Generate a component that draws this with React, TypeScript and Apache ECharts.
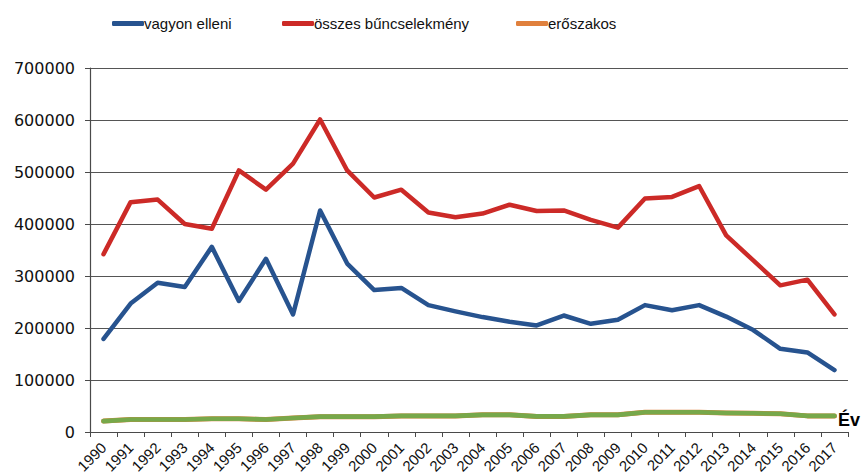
import React, { useEffect, useRef } from "react";
import * as echarts from "echarts";

const years = ["1990","1991","1992","1993","1994","1995","1996","1997","1998","1999","2000","2001","2002","2003","2004","2005","2006","2007","2008","2009","2010","2011","2012","2013","2014","2015","2016","2017"];
const vagyonElleni = [179000,247000,287000,279000,356000,252000,333000,226000,426000,324000,273000,277000,244000,232000,221000,212000,205000,224000,208000,216000,244000,234000,244000,222000,196000,160000,153000,119000];
const osszes = [342000,442000,447000,400000,391000,503000,466000,516000,601000,503000,451000,466000,422000,413000,420000,437000,425000,426000,408000,393000,449000,452000,473000,378000,330000,282000,293000,226000];
const eroszakos = [21000,24000,24000,24000,25500,25500,24000,27000,29500,29500,29500,31000,31000,31000,33000,33000,30000,30000,33000,33000,38000,38000,38000,36500,36000,35000,31000,31000];
const yTicks = [0,100000,200000,300000,400000,500000,600000,700000];

const BLUE = "#27538F";
const RED = "#CC2A27";
const ORANGE = "#E0803C";
const GREEN = "#77A84A";

export default function App() {
  const ref = useRef<HTMLDivElement>(null);
  useEffect(() => {
    const chart = echarts.init(ref.current!, undefined, { renderer: "svg" });
    const legendBase = {
      top: 11,
      icon: "roundRect",
      itemWidth: 32,
      itemHeight: 5,
      itemGap: 0,
      textStyle: { fontFamily: "Liberation Sans", fontSize: 15, color: "#111", padding: [0, 0, 0, -5] },
    };
    chart.setOption({
      animation: false,
      backgroundColor: "#fff",
      legend: [
        { ...legendBase, left: 107, data: [{ name: "vagyon elleni", itemStyle: { color: BLUE } }] },
        { ...legendBase, left: 277, data: [{ name: "összes bűncselekmény", itemStyle: { color: RED } }] },
        { ...legendBase, left: 511, data: [{ name: "erőszakos", itemStyle: { color: ORANGE } }] },
      ],
      grid: { left: 90, right: 15, top: 68, bottom: 42, containLabel: false, outerBoundsMode: "none" },
      xAxis: {
        type: "category",
        data: years,
        boundaryGap: true,
        axisLine: { lineStyle: { color: "#4a4a4a", width: 1.2 } },
        axisTick: { show: true, length: 5, alignWithLabel: false, lineStyle: { color: "#4a4a4a" } },
        axisLabel: { rotate: 45, interval: 0, fontFamily: "Liberation Sans", fontSize: 15, color: "#111", margin: 13 },
      },
      yAxis: {
        type: "value",
        min: 0,
        max: 700000,
        interval: 100000,
        axisLine: { show: true, lineStyle: { color: "#4a4a4a", width: 1.2 } },
        axisTick: { show: true, length: 5, lineStyle: { color: "#4a4a4a" } },
        splitLine: { show: true, lineStyle: { color: "#555", width: 1 } },
        axisLabel: {
          fontFamily: "DejaVu Sans",
          fontSize: 16,
          color: "#111",
          margin: 15,
          formatter: (v: number) => (yTicks.includes(v) ? String(v) : ""),
        },
      },
      graphic: [
        { type: "text", left: 838, top: 411, style: { text: "Év", fontFamily: "Liberation Sans", fontWeight: "bold", fontSize: 18, fill: "#000" } },
      ],
      series: [
        {
          name: "vagyon elleni", type: "line", data: vagyonElleni, symbol: "none",
          itemStyle: { color: BLUE }, lineStyle: { color: BLUE, width: 4.5, cap: "round", join: "round" }, z: 3,
        },
        {
          name: "összes bűncselekmény", type: "line", data: osszes, symbol: "none",
          itemStyle: { color: RED }, lineStyle: { color: RED, width: 4.5, cap: "round", join: "round" }, z: 2,
        },
        {
          name: "erőszakos", type: "line", data: eroszakos, symbol: "none",
          itemStyle: { color: ORANGE }, lineStyle: { color: ORANGE, width: 5, cap: "round", join: "round" }, z: 2,
        },
        {
          name: "erőszakos_", type: "line", data: eroszakos, symbol: "none",
          itemStyle: { color: GREEN }, lineStyle: { color: GREEN, width: 4.6, cap: "round", join: "round" }, z: 3,
        },
      ],
    });
    return () => chart.dispose();
  }, []);
  return <div ref={ref} style={{ width: 863, height: 474, position: "absolute", left: 0, top: 0 }} />;
}
